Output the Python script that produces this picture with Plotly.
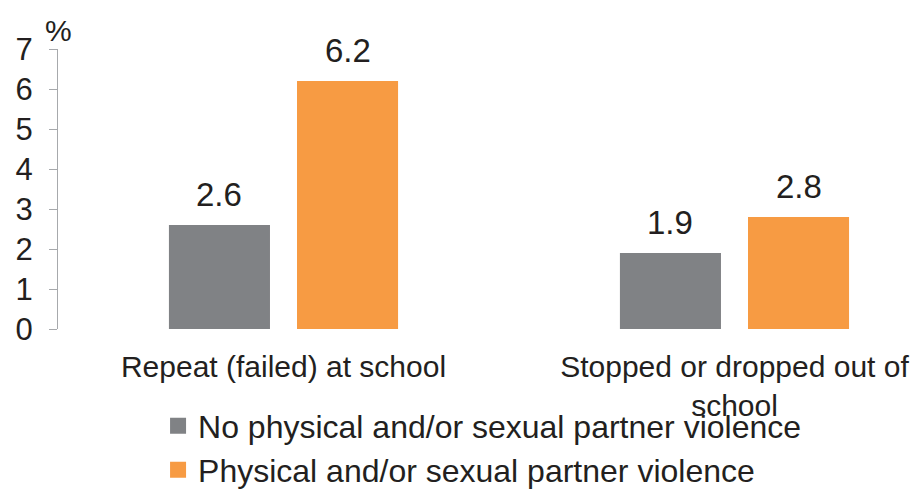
import plotly.graph_objects as go

categories = ["Repeat (failed) at school", "Stopped or dropped out of<br>school"]
no_violence = [2.6, 1.9]
violence = [6.2, 2.8]
series_names = ["No physical and/or sexual partner violence", "Physical and/or sexual partner violence"]
y_ticks = [0, 1, 2, 3, 4, 5, 6, 7]

GRAY = "#808285"
ORANGE = "#F79B43"
TXT = "#231F20"
AXIS = "#A7A9AC"
FONT = "Liberation Sans, Arial, sans-serif"

BARGAP = 0.432
GROUPGAP = 0.211
W, H = 915, 483  # page body keeps an 8px margin

fig = go.Figure()
series = [(no_violence, GRAY, series_names[0]), (violence, ORANGE, series_names[1])]
for vals, col, name in series:
    fig.add_trace(go.Bar(x=categories, y=vals, name=name, marker_color=col,
                         marker_line_width=0, showlegend=False))

# legend entries (square symbols), one legend each
for i, (vals, col, name) in enumerate(series):
    fig.add_trace(go.Scatter(x=[None], y=[None], mode="markers", name=name,
                             marker=dict(symbol="square", size=16, color=col),
                             legend="legend" if i == 0 else "legend2"))

# value labels above bars, placed through the axis scale
slot = (1 - BARGAP) / 2
annotations = []
for i, (vals, col, name) in enumerate(series):
    offset = (i - 0.5) * slot
    for ci, v in enumerate(vals):
        annotations.append(dict(x=ci + offset, y=v, xref="x", yref="y", text=f"{v:.1f}",
                                showarrow=False, yanchor="bottom", xanchor="center", yshift=10,
                                font=dict(size=33, color=TXT)))
annotations.append(dict(text="%", xref="paper", yref="paper", x=0.0, y=1.0, xanchor="center",
                        yanchor="bottom", showarrow=False, font=dict(size=30, color=TXT), yshift=0))

fig.update_layout(
    width=W, height=H,
    margin=dict(l=50, r=0, t=41, b=162, autoexpand=False),
    plot_bgcolor="white", paper_bgcolor="white",
    font=dict(family=FONT, size=29, color=TXT),
    barmode="group", bargap=BARGAP, bargroupgap=GROUPGAP,
    xaxis=dict(range=[-0.5, 1.418], showline=False, ticks="", showgrid=False, automargin=False,
               tickfont=dict(size=30, color=TXT), ticklabelstandoff=17),
    yaxis=dict(range=[0, 7], tickvals=y_ticks, showline=True, linecolor=AXIS, linewidth=1,
               ticks="outside", ticklen=8, tickcolor=AXIS, showgrid=False, zeroline=False,
               automargin=False, tickfont=dict(size=31, color=TXT), ticklabelstandoff=10),
    legend=dict(xref="container", yref="container", x=0.164, y=1 - 418 / H, xanchor="left",
                yanchor="middle", font=dict(size=32, color=TXT), bgcolor="rgba(0,0,0,0)"),
    legend2=dict(xref="container", yref="container", x=0.164, y=1 - 462 / H, xanchor="left",
                 yanchor="middle", font=dict(size=32, color=TXT), bgcolor="rgba(0,0,0,0)"),
    showlegend=True,
    annotations=annotations,
)

fig.write_html("out.html")
